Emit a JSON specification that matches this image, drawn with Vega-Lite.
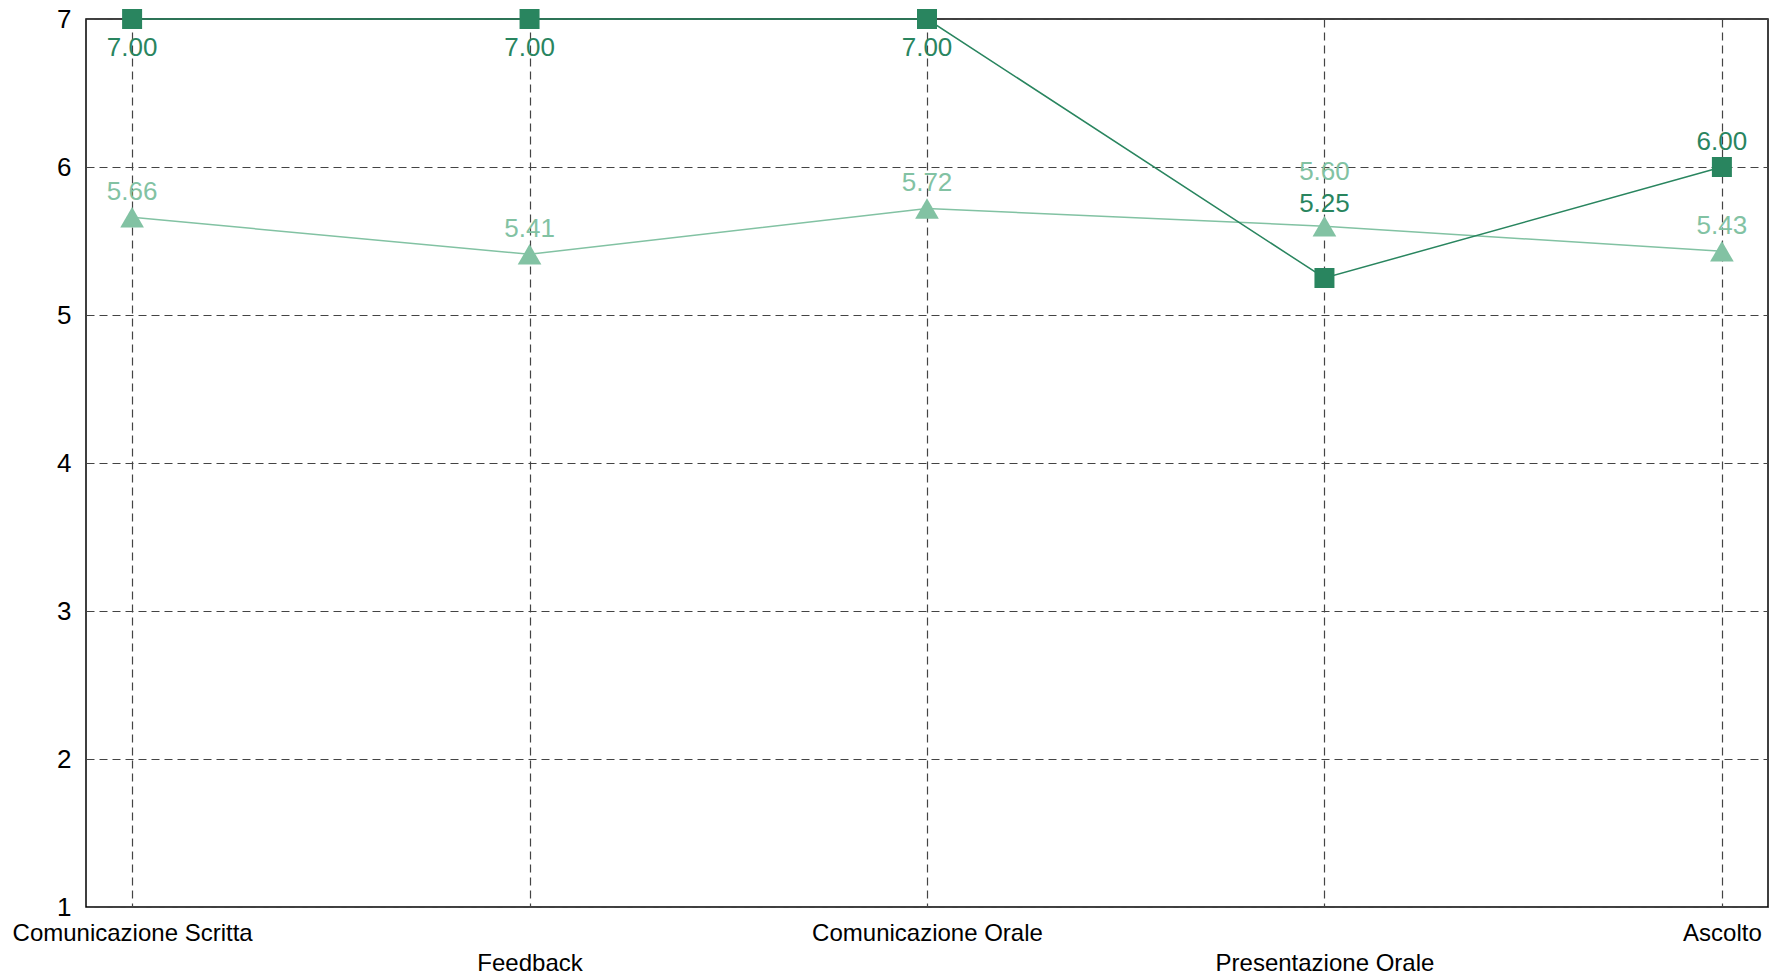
{
  "$schema": "https://vega.github.io/schema/vega-lite/v6.json",
  "width": 1682,
  "height": 888,
  "autosize": {"type": "none"},
  "padding": {"left": 86, "top": 19, "right": 4, "bottom": 70},
  "background": "white",
  "config": {
    "font": "Liberation Sans",
    "view": {"stroke": "black", "strokeWidth": 1.5}
  },
  "data": {
    "values": [
      {"skill": "Comunicazione Scritta", "series": "Serie 2", "score": 5.66},
      {"skill": "Feedback", "series": "Serie 2", "score": 5.41},
      {"skill": "Comunicazione Orale", "series": "Serie 2", "score": 5.72},
      {"skill": "Presentazione Orale", "series": "Serie 2", "score": 5.60},
      {"skill": "Ascolto", "series": "Serie 2", "score": 5.43},
      {"skill": "Comunicazione Scritta", "series": "Serie 1", "score": 7.00},
      {"skill": "Feedback", "series": "Serie 1", "score": 7.00},
      {"skill": "Comunicazione Orale", "series": "Serie 1", "score": 7.00},
      {"skill": "Presentazione Orale", "series": "Serie 1", "score": 5.25},
      {"skill": "Ascolto", "series": "Serie 1", "score": 6.00}
    ]
  },
  "encoding": {
    "x": {
      "field": "skill",
      "type": "nominal",
      "sort": ["Comunicazione Scritta", "Feedback", "Comunicazione Orale", "Presentazione Orale", "Ascolto"],
      "scale": {"type": "point", "padding": 0.116},
      "axis": {
        "title": null,
        "domain": false,
        "ticks": false,
        "grid": true,
        "gridDash": [8, 5],
        "gridColor": "#444444",
        "gridWidth": 1.2,
        "labelFontSize": 24,
        "labelColor": "black",
        "labelPadding": 14,
        "labelAngle": 0,
        "labelLimit": 0,
        "labelLineHeight": 30,
        "labelExpr": "round(datum.index * 4) % 2 == 1 ? ['', datum.label] : datum.label"
      }
    },
    "y": {
      "field": "score",
      "type": "quantitative",
      "scale": {"domain": [1, 7], "nice": false, "zero": false},
      "axis": {
        "title": null,
        "domain": false,
        "ticks": false,
        "values": [1, 2, 3, 4, 5, 6, 7],
        "grid": true,
        "gridDash": [8, 5],
        "gridColor": "#444444",
        "gridWidth": 1.2,
        "labelFontSize": 26,
        "labelColor": "black",
        "labelPadding": 15
      }
    },
    "color": {
      "field": "series",
      "type": "nominal",
      "scale": {"domain": ["Serie 1", "Serie 2"], "range": ["#29855f", "#82c2a3"]},
      "legend": null
    }
  },
  "layer": [
    {"mark": {"type": "line", "strokeWidth": 1.5}},
    {
      "mark": {"type": "point", "filled": true, "opacity": 1},
      "encoding": {
        "shape": {
          "field": "series",
          "type": "nominal",
          "scale": {"domain": ["Serie 1", "Serie 2"], "range": ["square", "triangle-up"]},
          "legend": null
        },
        "size": {
          "field": "series",
          "type": "nominal",
          "scale": {"domain": ["Serie 1", "Serie 2"], "range": [400, 560]},
          "legend": null
        }
      }
    },
    {
      "transform": [{"filter": "datum.series == 'Serie 1' && datum.score == 7"}],
      "mark": {"type": "text", "fontSize": 26, "baseline": "middle", "dy": 29},
      "encoding": {"text": {"field": "score", "type": "quantitative", "format": ".2f"}}
    },
    {
      "transform": [{"filter": "datum.series == 'Serie 1' && datum.score < 7 && datum.skill != 'Presentazione Orale'"}],
      "mark": {"type": "text", "fontSize": 26, "baseline": "middle", "dy": -25},
      "encoding": {"text": {"field": "score", "type": "quantitative", "format": ".2f"}}
    },
    {
      "transform": [{"filter": "datum.series == 'Serie 1' && datum.skill == 'Presentazione Orale'"}],
      "mark": {"type": "text", "fontSize": 26, "baseline": "middle", "dy": -74},
      "encoding": {"text": {"field": "score", "type": "quantitative", "format": ".2f"}}
    },
    {
      "transform": [{"filter": "datum.series == 'Serie 2' && datum.skill != 'Presentazione Orale'"}],
      "mark": {"type": "text", "fontSize": 26, "baseline": "middle", "dy": -25},
      "encoding": {"text": {"field": "score", "type": "quantitative", "format": ".2f"}}
    },
    {
      "transform": [{"filter": "datum.series == 'Serie 2' && datum.skill == 'Presentazione Orale'"}],
      "mark": {"type": "text", "fontSize": 26, "baseline": "middle", "dy": -54},
      "encoding": {"text": {"field": "score", "type": "quantitative", "format": ".2f"}}
    }
  ]
}
